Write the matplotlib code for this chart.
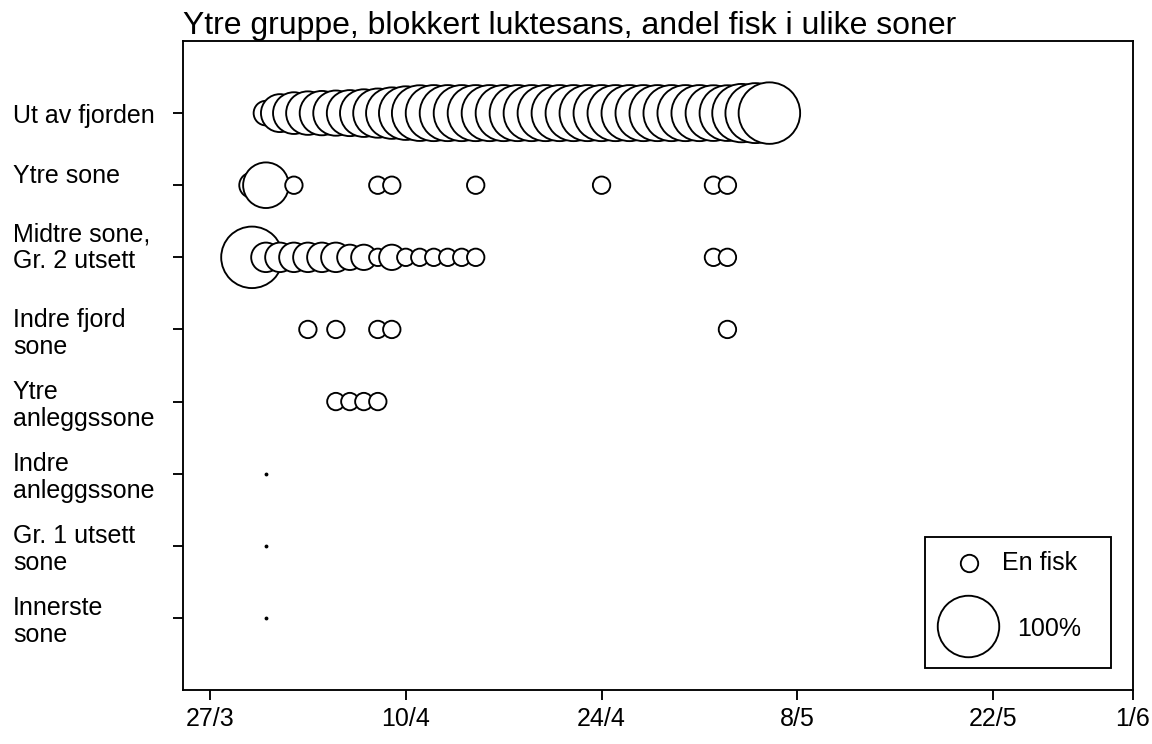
import matplotlib
matplotlib.use("Agg")
import matplotlib.pyplot as plt
import matplotlib.dates as mdates
from matplotlib.ticker import FuncFormatter
from matplotlib.patches import Rectangle
import numpy as np
import pandas as pd

plt.rcParams['font.family'] = ['Liberation Sans', 'DejaVu Sans']

# ---------------- data ----------------
zone_labels = ["Ut av fjorden", "Ytre sone\n ", "Midtre sone,\nGr. 2 utsett\n ",
               "Indre fjord\nsone", "Ytre\nanleggssone", "Indre\nanleggssone",
               "Gr. 1 utsett\nsone", "Innerste\nsone"]

# Ut av fjorden: daily from 31/3 to 6/5 (percent of fish)
ut_start = "2010-03-31"
ut_pct = [16, 38, 46, 50, 52, 54, 56, 60, 64, 70, 76, 82,
          83, 83, 83, 83, 83, 83, 83, 83, 83, 83,
          83, 83, 83, 83, 83, 83, 83, 83, 83, 83,
          82, 82, 90, 95, 100]

ytre_dates = ["2010-03-30", "2010-03-31", "2010-04-02", "2010-04-08", "2010-04-09",
              "2010-04-15", "2010-04-24", "2010-05-02", "2010-05-03"]
ytre_pct = [17, 55, 8, 8, 8, 8, 8, 8, 8]

midtre_dates = ["2010-03-30", "2010-03-31", "2010-04-01", "2010-04-02", "2010-04-03",
                "2010-04-04", "2010-04-05", "2010-04-06", "2010-04-07", "2010-04-08",
                "2010-04-09", "2010-04-10", "2010-04-11", "2010-04-12", "2010-04-13",
                "2010-04-14", "2010-04-15", "2010-05-02", "2010-05-03"]
midtre_pct = [100, 23, 23, 23, 23, 23, 23, 17, 17, 8, 17, 8, 8, 8, 8, 8, 8, 8, 8]

indre_fjord_dates = ["2010-04-03", "2010-04-05", "2010-04-08", "2010-04-09", "2010-05-03"]
indre_fjord_pct = [8, 8, 8, 8, 8]

ytre_anlegg_dates = ["2010-04-05", "2010-04-06", "2010-04-07", "2010-04-08"]
ytre_anlegg_pct = [8, 8, 8, 8]

indre_anlegg_dates = ["2010-03-31"]
indre_anlegg_pct = [0]
gr1_dates = ["2010-03-31"]
gr1_pct = [0]
innerste_dates = ["2010-03-31"]
innerste_pct = [0]

tick_dates = ["2010-03-27", "2010-04-10", "2010-04-24", "2010-05-08", "2010-05-22", "2010-06-01"]
one_fish_pct = 8

title = "Ytre gruppe, blokkert luktesans, andel fisk i ulike soner"

# ---------------- plot ----------------
W, H = 1152, 744
fig = plt.figure(figsize=(W / 100, H / 100), dpi=100)
ax = fig.add_axes([183 / W, 1 - 690 / H, 950 / W, 649 / H])

S_MAX = (61.5 * 0.72) ** 2  # area for 100 %
LW = 1.35

rows = [
    (pd.date_range(ut_start, periods=len(ut_pct)), ut_pct),
    (pd.to_datetime(ytre_dates), ytre_pct),
    (pd.to_datetime(midtre_dates), midtre_pct),
    (pd.to_datetime(indre_fjord_dates), indre_fjord_pct),
    (pd.to_datetime(ytre_anlegg_dates), ytre_anlegg_pct),
    (pd.to_datetime(indre_anlegg_dates), indre_anlegg_pct),
    (pd.to_datetime(gr1_dates), gr1_pct),
    (pd.to_datetime(innerste_dates), innerste_pct),
]
n = len(rows)
for i, (dates, pct) in enumerate(rows):
    yv = n - i
    sizes = np.maximum(np.asarray(pct, float) / 100 * S_MAX, 2.0)
    ax.scatter(mdates.date2num(dates), np.full(len(pct), yv), s=sizes,
               facecolor="white", edgecolor="black", linewidths=LW, zorder=3)

t0 = mdates.date2num(pd.Timestamp(tick_dates[0]))
ax.set_xlim(t0 - 1.93, mdates.date2num(pd.Timestamp(tick_dates[-1])))
ax.set_ylim(0, n + 1)
ax.set_xticks(mdates.date2num(pd.to_datetime(tick_dates)))
ax.xaxis.set_major_formatter(FuncFormatter(
    lambda v, p: f"{mdates.num2date(v).day}/{mdates.num2date(v).month}"))
ax.set_yticks(np.arange(n, 0, -1))
ax.set_yticklabels(zone_labels, ha="left", linespacing=1.15)

ax.tick_params(axis="both", direction="out", length=7.5, width=LW, labelsize=18, color="black")
ax.tick_params(axis="y", pad=115)
ax.tick_params(axis="x", pad=5)
for sp in ax.spines.values():
    sp.set_linewidth(LW)

ax.set_title(title, loc="left", fontsize=23, pad=5)

# legend
ax.add_patch(Rectangle((0.781, 0.034), 0.196, 0.202, transform=ax.transAxes,
                       facecolor="white", edgecolor="black", linewidth=LW, zorder=4))
ax.scatter([0.827], [0.196], s=one_fish_pct / 100 * S_MAX, transform=ax.transAxes,
           facecolor="white", edgecolor="black", linewidths=LW, zorder=5, clip_on=False)
ax.scatter([0.826], [0.0986], s=S_MAX, transform=ax.transAxes,
           facecolor="white", edgecolor="black", linewidths=LW, zorder=5, clip_on=False)
ax.text(0.862, 0.196, "En fisk", transform=ax.transAxes, fontsize=18, va="center", ha="left", zorder=6)
ax.text(0.878, 0.094, "100%", transform=ax.transAxes, fontsize=18, va="center", ha="left", zorder=6)

fig.savefig("out.png", dpi=100, facecolor="white")
